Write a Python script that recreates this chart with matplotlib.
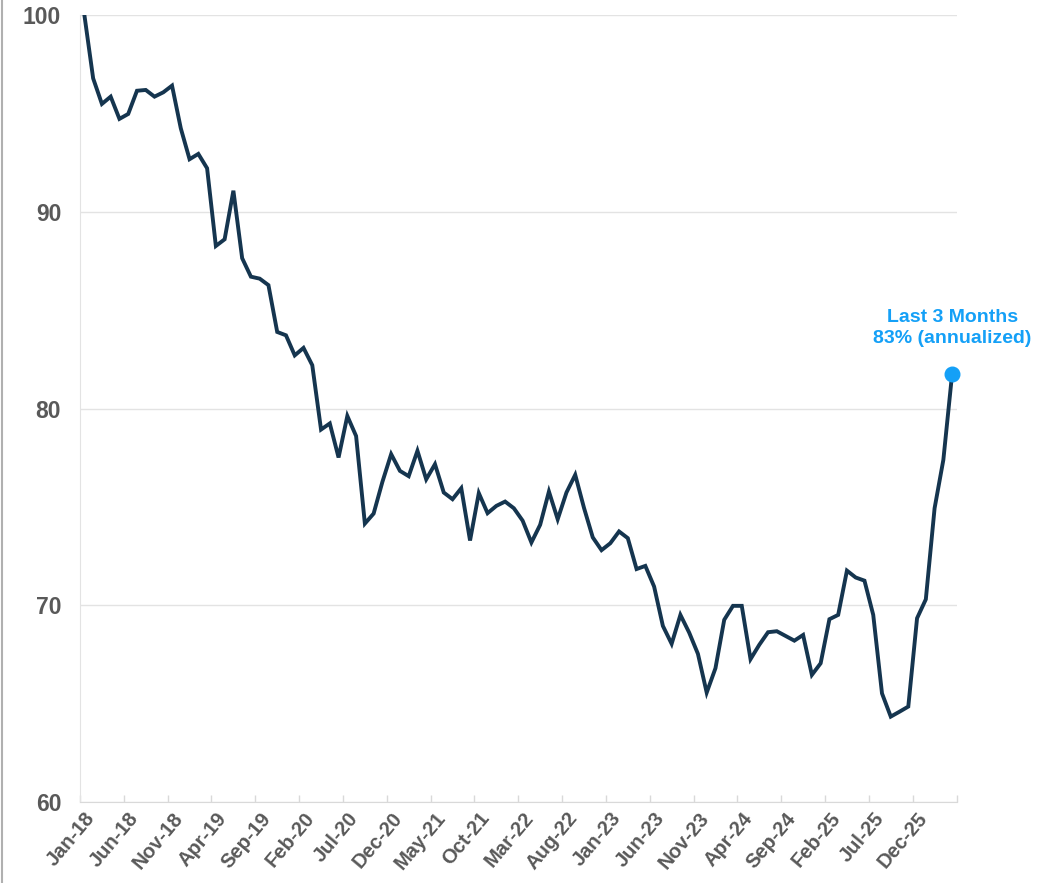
import matplotlib
matplotlib.use("Agg")
import matplotlib.pyplot as plt
from matplotlib.lines import Line2D

values = [
    100.0, 96.78, 95.48, 95.85, 94.72, 94.97, 96.15, 96.19, 95.85, 96.07,
    96.41, 94.24, 92.67, 92.94, 92.21, 88.26, 88.60, 91.07, 87.64, 86.70,
    86.60, 86.27, 83.89, 83.72, 82.70, 83.08, 82.20, 78.93, 79.24, 77.51,
    79.62, 78.60, 74.15, 74.66, 76.27, 77.68, 76.83, 76.56, 77.85, 76.40,
    77.17, 75.73, 75.39, 75.95, 73.29, 75.70, 74.68, 75.05, 75.27, 74.93,
    74.30, 73.19, 74.09, 75.78, 74.37, 75.73, 76.63, 74.95, 73.45, 72.80,
    73.15, 73.75, 73.41, 71.84, 72.00, 70.95, 68.95, 68.04, 69.51, 68.61,
    67.53, 65.56, 66.80, 69.26, 69.97, 69.97, 67.26, 67.99, 68.63, 68.68,
    68.44, 68.20, 68.49, 66.46, 67.05, 69.29, 69.51, 71.76, 71.41, 71.25,
    69.51, 65.52, 64.34, 64.59, 64.85, 69.34, 70.30, 74.93, 77.39, 81.76,
]
tick_labels = ["Jan-18", "Jun-18", "Nov-18", "Apr-19", "Sep-19", "Feb-20", "Jul-20",
               "Dec-20", "May-21", "Oct-21", "Mar-22", "Aug-22", "Jan-23", "Jun-23",
               "Nov-23", "Apr-24", "Sep-24", "Feb-25", "Jul-25", "Dec-25"]
y_ticks = [60, 70, 80, 90, 100]
annotation = "Last 3 Months\n83% (annualized)"

plt.rcParams['font.family'] = ['Liberation Sans', 'DejaVu Sans']

W, H = 1051, 883
fig = plt.figure(figsize=(W / 100, H / 100), dpi=100)
ax = fig.add_axes([80 / W, 1 - 802 / H, (956.5 - 80) / W, (802 - 15) / H])

x = list(range(len(values)))
ax.plot(x, values, color='#15354f', lw=2.8, solid_joinstyle='miter', zorder=3)
ax.plot([x[-1]], [values[-1]], 'o', color='#14a0f7', ms=10.5, zorder=4, clip_on=False)
ax.text(x[-1], 84.07, annotation, ha='center', va='center', color='#14a0f7',
        fontsize=14, fontweight='bold', linespacing=1.3)

ax.set_xlim(-0.5, len(values) - 0.5)
ax.set_ylim(60, 100)
ax.set_yticks(y_ticks)
ax.set_yticklabels([str(v) for v in y_ticks])
ax.grid(axis='y', color='#e3e3e3', lw=1.0)
ax.set_axisbelow(True)

ax.set_xticks(list(range(0, len(values), 5)))
ax.set_xticklabels(tick_labels, rotation=50, ha='right', va='top', rotation_mode='anchor')
ax.set_xticks([i - 0.5 for i in range(0, len(values) + 1, 5)], minor=True)
ax.tick_params(axis='x', which='major', length=0, pad=5, labelsize=14.5,
               labelcolor='#595959')
ax.tick_params(axis='x', which='minor', length=5, direction='in', color='#d9d9d9', width=1)
ax.tick_params(axis='y', length=0, pad=13.5, labelsize=16.5, labelcolor='#595959')
for lab in ax.get_xticklabels() + ax.get_yticklabels():
    lab.set_fontweight('bold')

for s in ['top', 'right']:
    ax.spines[s].set_visible(False)
ax.spines['left'].set_color('#e3e3e3')
ax.spines['bottom'].set_color('#d9d9d9')

fig.add_artist(Line2D([2 / W, 2 / W], [0, 1], color='#b0b0b0', lw=1.5,
                      transform=fig.transFigure))

fig.savefig('out.png', dpi=100, facecolor='white')
